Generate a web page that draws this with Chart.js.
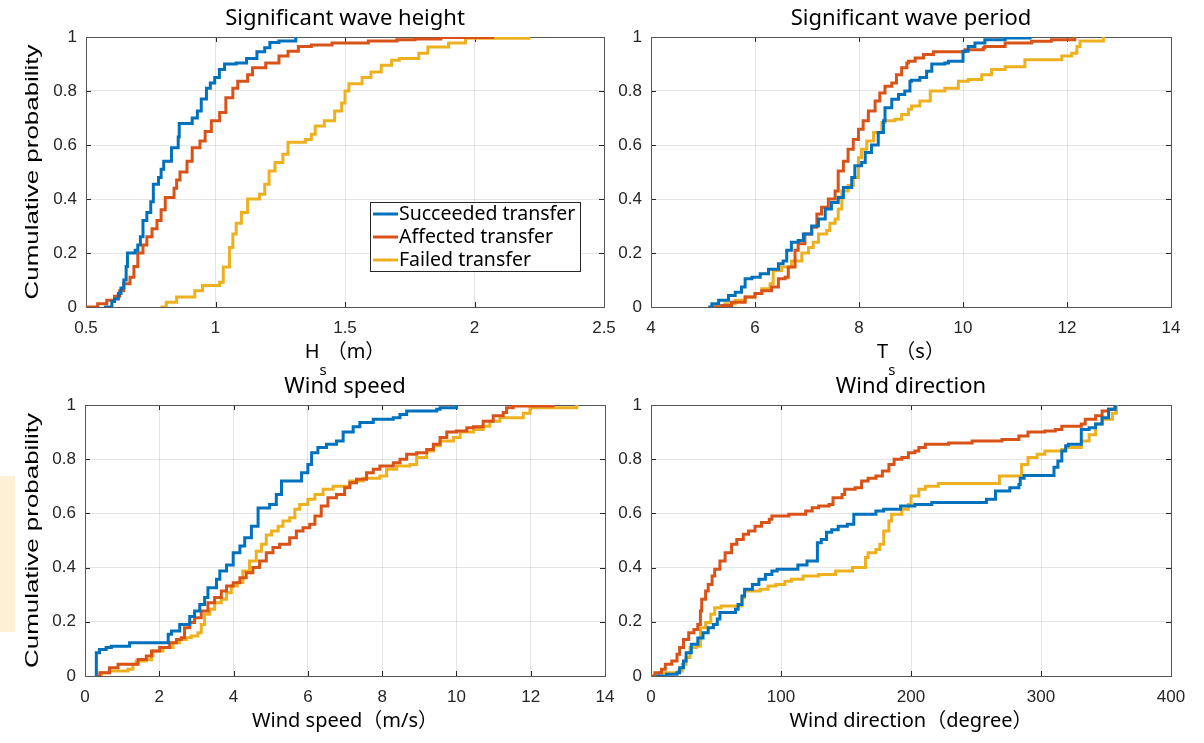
<!DOCTYPE html>
<html>
<head>
<meta charset="utf-8">
<script src="https://cdn.jsdelivr.net/npm/chart.js@4.4.1/dist/chart.umd.min.js"></script>
<style>
    html, body { margin: 0; padding: 0; background: #fff; }
    #wrap { position: relative; width: 1204px; height: 743px; overflow: hidden; }
    #wrap canvas { position: absolute; }
    #mark { position: absolute; left: 0; top: 476px; width: 15px; height: 156px; background: #fdf0d5; }
</style>
</head>
<body>
<div id="wrap">
    <div id="mark"></div>
    <canvas id="cHs" width="640" height="385" style="left:0;top:0"></canvas>
    <canvas id="cWs" width="640" height="371" style="left:0;top:372px"></canvas>
    <canvas id="cTs" width="594" height="385" style="left:610px;top:0"></canvas>
    <canvas id="cWd" width="594" height="371" style="left:610px;top:372px"></canvas>
</div>
<script>
// ============================ 数据 ============================
const seriesNames = ['Succeeded transfer', 'Affected transfer', 'Failed transfer'];
const seriesColors = ['#0072BD', '#D95319', '#EDB120'];

const probTicks = [0, 0.2, 0.4, 0.6, 0.8, 1];
const hsTicks = [0.5, 1, 1.5, 2, 2.5];
const tsTicks = [4, 6, 8, 10, 12, 14];
const wsTicks = [0, 2, 4, 6, 8, 10, 12, 14];
const wdTicks = [0, 100, 200, 300, 400];

// 有义波高 Hs (m) - [x, 累积概率]
const hsSucceeded = [[0.57,0],[0.6,0.02],[0.61,0.03],[0.625,0.05],[0.635,0.07],[0.646,0.1],[0.655,0.15],[0.66,0.2],[0.69,0.21],[0.70,0.23],[0.71,0.26],[0.72,0.32],[0.735,0.35],[0.75,0.39],[0.76,0.455],[0.78,0.48],[0.79,0.51],[0.80,0.54],[0.83,0.59],[0.856,0.63],[0.86,0.68],[0.91,0.70],[0.93,0.726],[0.945,0.77],[0.965,0.81],[0.98,0.83],[0.997,0.85],[1.015,0.88],[1.035,0.9],[1.08,0.904],[1.12,0.92],[1.16,0.945],[1.19,0.96],[1.21,0.98],[1.245,0.985],[1.31,1]];
const hsAffected = [[0.5,0],[0.545,0.012],[0.58,0.025],[0.61,0.04],[0.63,0.06],[0.646,0.086],[0.67,0.11],[0.685,0.15],[0.70,0.2],[0.72,0.23],[0.735,0.26],[0.755,0.29],[0.774,0.32],[0.79,0.36],[0.806,0.406],[0.84,0.44],[0.85,0.47],[0.863,0.5],[0.89,0.54],[0.91,0.59],[0.94,0.615],[0.96,0.65],[0.984,0.69],[1.016,0.72],[1.04,0.775],[1.067,0.81],[1.086,0.836],[1.124,0.86],[1.143,0.886],[1.194,0.904],[1.245,0.93],[1.28,0.947],[1.32,0.965],[1.37,0.97],[1.45,0.978],[1.59,0.985],[1.70,0.99],[1.77,0.993],[1.87,0.998],[2.07,1]];
const hsFailed = [[0.787,0],[0.81,0.018],[0.85,0.037],[0.92,0.06],[0.95,0.08],[1.016,0.092],[1.03,0.148],[1.054,0.22],[1.067,0.27],[1.08,0.31],[1.1,0.35],[1.124,0.40],[1.17,0.418],[1.19,0.455],[1.207,0.504],[1.23,0.535],[1.26,0.566],[1.28,0.61],[1.347,0.62],[1.37,0.64],[1.385,0.67],[1.42,0.69],[1.46,0.726],[1.487,0.756],[1.5,0.80],[1.515,0.827],[1.566,0.85],[1.60,0.87],[1.64,0.895],[1.68,0.914],[1.71,0.92],[1.785,0.94],[1.82,0.963],[1.9,0.978],[1.965,0.995],[2.21,1]];

// 有义波周期 Ts (s)
const tsSucceeded = [[5.10,0],[5.17,0.012],[5.3,0.025],[5.49,0.043],[5.62,0.055],[5.74,0.074],[5.81,0.105],[5.94,0.11],[6.1,0.123],[6.26,0.14],[6.45,0.16],[6.54,0.17],[6.61,0.21],[6.7,0.24],[6.83,0.246],[6.93,0.27],[7.09,0.3],[7.22,0.326],[7.35,0.363],[7.47,0.387],[7.6,0.406],[7.7,0.443],[7.86,0.48],[7.92,0.523],[8.05,0.535],[8.12,0.572],[8.24,0.6],[8.37,0.646],[8.47,0.69],[8.5,0.738],[8.63,0.769],[8.76,0.787],[8.88,0.8],[8.98,0.836],[9.01,0.84],[9.17,0.85],[9.3,0.873],[9.4,0.9],[9.65,0.904],[9.72,0.91],[10.0,0.947],[10.1,0.965],[10.23,0.978],[10.42,0.99],[10.81,0.996],[11.29,1]];
const tsAffected = [[5.17,0],[5.36,0.006],[5.55,0.018],[5.81,0.037],[6.0,0.05],[6.13,0.06],[6.32,0.074],[6.45,0.105],[6.58,0.11],[6.64,0.148],[6.77,0.21],[6.83,0.234],[6.96,0.27],[7.09,0.295],[7.19,0.344],[7.28,0.369],[7.41,0.4],[7.54,0.43],[7.6,0.504],[7.7,0.54],[7.79,0.584],[7.89,0.62],[7.99,0.658],[8.08,0.69],[8.18,0.726],[8.31,0.763],[8.4,0.793],[8.5,0.818],[8.63,0.83],[8.72,0.86],[8.82,0.886],[8.92,0.904],[8.95,0.91],[9.08,0.922],[9.24,0.935],[9.43,0.945],[10.04,0.953],[10.39,0.96],[10.42,0.965],[10.81,0.978],[11.32,0.984],[11.7,0.99],[12.15,1]];
const tsFailed = [[5.17,0],[5.42,0.012],[5.62,0.025],[5.81,0.037],[6.0,0.05],[6.13,0.068],[6.29,0.086],[6.35,0.135],[6.51,0.148],[6.7,0.17],[6.9,0.2],[7.03,0.22],[7.12,0.24],[7.22,0.27],[7.38,0.283],[7.44,0.31],[7.54,0.326],[7.6,0.363],[7.67,0.43],[7.79,0.45],[7.89,0.48],[7.99,0.553],[8.05,0.584],[8.15,0.615],[8.28,0.646],[8.44,0.683],[8.5,0.69],[8.69,0.695],[8.82,0.713],[8.95,0.732],[9.01,0.744],[9.17,0.763],[9.37,0.8],[9.65,0.81],[9.91,0.836],[10.1,0.843],[10.36,0.86],[10.55,0.88],[10.81,0.89],[11.19,0.916],[11.9,0.93],[12.09,0.94],[12.19,0.965],[12.25,0.985],[12.7,1]];

// 风速 (m/s)
const wsSucceeded = [[0.305,0],[0.305,0.086],[0.39,0.098],[0.57,0.105],[0.71,0.11],[1.2,0.123],[2.24,0.154],[2.33,0.166],[2.55,0.19],[2.82,0.22],[2.95,0.24],[3.09,0.264],[3.22,0.29],[3.31,0.326],[3.54,0.357],[3.63,0.387],[3.81,0.41],[3.99,0.455],[4.17,0.48],[4.3,0.51],[4.48,0.553],[4.66,0.62],[4.97,0.633],[5.15,0.67],[5.29,0.72],[5.83,0.75],[6.0,0.78],[6.1,0.824],[6.27,0.843],[6.5,0.855],[6.77,0.867],[6.95,0.9],[7.22,0.92],[7.4,0.935],[7.76,0.947],[8.3,0.953],[8.48,0.965],[8.66,0.978],[9.47,0.984],[9.56,0.99],[10.0,1]];
const wsAffected = [[0.35,0],[0.4,0.012],[0.66,0.03],[0.89,0.043],[1.43,0.061],[1.65,0.074],[1.79,0.092],[2.01,0.105],[2.28,0.123],[2.46,0.135],[2.59,0.141],[2.68,0.178],[2.82,0.197],[2.95,0.215],[3.13,0.24],[3.31,0.27],[3.49,0.29],[3.67,0.314],[3.81,0.332],[3.99,0.344],[4.17,0.363],[4.34,0.381],[4.52,0.4],[4.7,0.424],[4.88,0.455],[5.06,0.474],[5.24,0.486],[5.51,0.51],[5.69,0.535],[5.87,0.547],[6.05,0.56],[6.19,0.59],[6.36,0.627],[6.54,0.658],[6.77,0.67],[6.99,0.695],[7.13,0.713],[7.31,0.726],[7.58,0.75],[7.76,0.763],[7.94,0.775],[8.3,0.787],[8.48,0.8],[8.66,0.818],[8.93,0.824],[9.2,0.836],[9.38,0.855],[9.56,0.88],[9.74,0.9],[10.0,0.904],[10.28,0.916],[10.46,0.92],[10.72,0.94],[10.99,0.96],[11.26,0.972],[11.35,0.99],[11.53,0.996],[12.6,1]];
const wsFailed = [[0.4,0],[0.44,0.012],[0.66,0.018],[1.16,0.025],[1.29,0.043],[1.38,0.055],[1.65,0.06],[1.79,0.074],[1.83,0.092],[2.1,0.105],[2.37,0.123],[2.55,0.135],[2.73,0.141],[2.86,0.148],[3.04,0.16],[3.13,0.19],[3.22,0.228],[3.36,0.246],[3.49,0.27],[3.67,0.283],[3.81,0.307],[3.94,0.332],[4.1,0.345],[4.25,0.387],[4.43,0.424],[4.61,0.46],[4.75,0.486],[4.88,0.52],[5.02,0.535],[5.2,0.553],[5.33,0.572],[5.51,0.584],[5.65,0.615],[5.78,0.633],[6.0,0.652],[6.19,0.67],[6.41,0.689],[6.68,0.70],[7.13,0.72],[7.49,0.73],[7.94,0.738],[8.12,0.763],[8.39,0.775],[8.75,0.78],[8.93,0.806],[9.2,0.83],[9.38,0.85],[9.56,0.867],[9.92,0.88],[10.1,0.9],[10.46,0.91],[10.72,0.922],[10.9,0.94],[11.17,0.953],[11.8,0.97],[11.98,0.99],[13.24,1]];

// 风向 (degree)
const wdSucceeded = [[4,0],[12,0.006],[20,0.012],[22,0.03],[25,0.055],[27,0.086],[31,0.117],[36,0.14],[40,0.16],[44,0.178],[48,0.19],[51,0.21],[53,0.234],[65,0.246],[67,0.264],[70,0.295],[72,0.32],[78,0.338],[83,0.357],[88,0.375],[93,0.387],[97,0.394],[113,0.41],[120,0.424],[128,0.492],[131,0.504],[135,0.53],[139,0.54],[144,0.553],[151,0.56],[156,0.597],[173,0.609],[179,0.615],[192,0.627],[203,0.633],[216,0.64],[258,0.652],[265,0.683],[276,0.695],[283,0.707],[284,0.73],[287,0.74],[310,0.77],[313,0.793],[316,0.83],[319,0.85],[321,0.855],[331,0.91],[337,0.916],[342,0.93],[347,0.953],[352,0.984],[357,1]];
const wdAffected = [[0,0],[3,0.012],[8,0.025],[11,0.043],[16,0.055],[20,0.08],[22,0.105],[25,0.135],[29,0.16],[33,0.172],[36,0.19],[38,0.24],[39,0.283],[42,0.314],[44,0.338],[47,0.369],[49,0.394],[53,0.424],[57,0.455],[62,0.486],[66,0.504],[71,0.523],[75,0.535],[80,0.553],[85,0.566],[91,0.578],[93,0.59],[106,0.597],[119,0.609],[124,0.621],[129,0.627],[137,0.633],[140,0.658],[147,0.67],[149,0.689],[157,0.695],[162,0.72],[167,0.73],[173,0.738],[178,0.756],[183,0.78],[187,0.8],[193,0.806],[198,0.824],[203,0.83],[206,0.843],[211,0.855],[229,0.86],[247,0.867],[270,0.873],[283,0.886],[290,0.9],[303,0.904],[311,0.91],[316,0.922],[331,0.93],[334,0.947],[342,0.96],[347,0.978],[352,0.984],[357,1]];
const wdFailed = [[0,0],[6,0.012],[21,0.018],[24,0.043],[27,0.068],[30,0.105],[35,0.11],[38,0.178],[42,0.197],[46,0.228],[49,0.252],[54,0.258],[70,0.289],[72,0.314],[84,0.32],[90,0.332],[96,0.338],[103,0.35],[108,0.357],[117,0.369],[129,0.375],[142,0.387],[155,0.4],[165,0.437],[167,0.455],[173,0.467],[176,0.486],[179,0.535],[183,0.572],[185,0.597],[193,0.615],[198,0.633],[200,0.664],[206,0.689],[211,0.7],[221,0.71],[268,0.738],[285,0.78],[290,0.806],[297,0.818],[303,0.83],[316,0.836],[319,0.843],[331,0.867],[337,0.89],[342,0.93],[347,0.947],[355,0.97],[358,1]];

// ============================ 样式 ============================
const TEXT_FONT = '"Noto Sans", "Noto Sans CJK JP", sans-serif';
const TICK_FONT = '"Liberation Sans", Arial, sans-serif';
const INK = '#262626';

// MATLAB 风格的边框、内刻度、标题、坐标轴标签和图例
const matlabFrame = {
    id: 'matlabFrame',
    beforeDatasetsDraw(chart) {
        const ctx = chart.ctx;
        const a = chart.chartArea;
        const xs = chart.scales.x;
        const ys = chart.scales.y;
        ctx.save();
        ctx.strokeStyle = INK;
        ctx.lineWidth = 1;
        ctx.beginPath();
        xs.ticks.forEach(t => {
            const px = Math.round(xs.getPixelForValue(t.value)) + 0.5;
            ctx.moveTo(px, a.bottom); ctx.lineTo(px, a.bottom - 5);
            ctx.moveTo(px, a.top); ctx.lineTo(px, a.top + 5);
        });
        ys.ticks.forEach(t => {
            const py = Math.round(ys.getPixelForValue(t.value)) + 0.5;
            ctx.moveTo(a.left, py); ctx.lineTo(a.left + 5, py);
            ctx.moveTo(a.right, py); ctx.lineTo(a.right - 5, py);
        });
        ctx.stroke();
        ctx.strokeStyle = '#555';
        ctx.strokeRect(Math.round(a.left) + 0.5, Math.round(a.top) + 0.5,
            Math.round(a.right - a.left), Math.round(a.bottom - a.top));
        ctx.restore();
    },
    afterDraw(chart, args, opts) {
        const ctx = chart.ctx;
        const a = chart.chartArea;
        const cx = (a.left + a.right) / 2;
        ctx.save();
        ctx.fillStyle = '#000';
        ctx.textBaseline = 'middle';

        // 标题
        ctx.font = '22px ' + TEXT_FONT;
        ctx.textAlign = 'center';
        ctx.fillText(opts.title, cx, a.top - 18);

        // x 轴标签（带下标）
        const parts = opts.xlabel;
        let total = 0;
        parts.forEach(p => {
            ctx.font = (p.sub ? '15px ' : '20px ') + TEXT_FONT;
            p.w = ctx.measureText(p.t).width;
            total += p.w;
        });
        let x = cx - total / 2;
        ctx.textAlign = 'left';
        parts.forEach(p => {
            ctx.font = (p.sub ? '15px ' : '20px ') + TEXT_FONT;
            ctx.fillText(p.t, x, a.bottom + 45 + (p.sub ? 19 : 0));
            x += p.w;
        });

        // y 轴标签（横向拉伸到原图长度）
        if (opts.ylabel) {
            ctx.translate(33, (a.top + a.bottom) / 2);
            ctx.rotate(-Math.PI / 2);
            ctx.font = '19px ' + TICK_FONT;
            const w = ctx.measureText(opts.ylabel).width;
            ctx.scale(opts.ylabelLength / w, 1);
            ctx.textAlign = 'center';
            ctx.fillText(opts.ylabel, 0, 0);
            ctx.setTransform(1, 0, 0, 1, 0, 0);
        }

        // 图例
        if (opts.legend) {
            const L = opts.legend;
            ctx.fillStyle = '#fff';
            ctx.fillRect(L.x, L.y, L.w, L.h);
            ctx.strokeStyle = INK;
            ctx.lineWidth = 1;
            ctx.strokeRect(L.x + 0.5, L.y + 0.5, L.w, L.h);
            ctx.font = '19.5px ' + TEXT_FONT;
            ctx.textAlign = 'left';
            chart.data.datasets.forEach((ds, i) => {
                const yy = L.y + 12 + i * 23;
                ctx.strokeStyle = ds.borderColor;
                ctx.lineWidth = 3;
                ctx.beginPath();
                ctx.moveTo(L.x + 3, yy);
                ctx.lineTo(L.x + 28, yy);
                ctx.stroke();
                ctx.fillStyle = '#000';
                ctx.fillText(ds.label, L.x + 29, yy);
            });
        }
        ctx.restore();
    }
};

function makeDatasets(list) {
    return list.map((pts, i) => ({
        label: seriesNames[i],
        data: pts.map(p => ({ x: p[0], y: p[1] })),
        borderColor: seriesColors[i],
        backgroundColor: seriesColors[i],
        borderWidth: 3,
        stepped: 'before',
        pointRadius: 0,
        fill: false
    }));
}

function drawPanel(id, cfg) {
    const ctx = document.getElementById(id).getContext('2d');
    return new Chart(ctx, {
        type: 'line',
        data: { datasets: makeDatasets(cfg.series) },
        plugins: [matlabFrame],
        options: {
            responsive: false,
            animation: false,
            layout: { padding: { top: cfg.padTop, right: cfg.padRight, left: 0, bottom: 0 } },
            plugins: {
                legend: { display: false },
                tooltip: { enabled: false },
                matlabFrame: {
                    title: cfg.title, xlabel: cfg.xlabel, legend: cfg.legend,
                    ylabel: cfg.ylabel, ylabelLength: 255
                }
            },
            scales: {
                x: {
                    type: 'linear',
                    min: cfg.xTicks[0],
                    max: cfg.xTicks[cfg.xTicks.length - 1],
                    afterBuildTicks: s => { s.ticks = cfg.xTicks.map(v => ({ value: v })); },
                    afterFit: s => { s.height = cfg.xHeight; },
                    grid: { color: 'rgba(0,0,0,0.1)', drawTicks: false },
                    border: { display: false },
                    ticks: {
                        autoSkip: false, maxRotation: 0, padding: 11,
                        color: INK, font: { family: TICK_FONT, size: 17 },
                        callback: v => String(v)
                    }
                },
                y: {
                    type: 'linear',
                    min: 0,
                    max: 1,
                    afterBuildTicks: s => { s.ticks = probTicks.map(v => ({ value: v })); },
                    afterFit: s => { s.width = cfg.yWidth; },
                    grid: { color: 'rgba(0,0,0,0.1)', drawTicks: false },
                    border: { display: false },
                    ticks: {
                        autoSkip: false, padding: 9,
                        color: INK, font: { family: TICK_FONT, size: 17 },
                        callback: v => String(v)
                    }
                }
            }
        }
    });
}

drawPanel('cHs', {
    series: [hsSucceeded, hsAffected, hsFailed], xTicks: hsTicks,
    title: 'Significant wave height',
    xlabel: [{ t: 'H' }, { t: 's', sub: true }, { t: '（m）' }],
    ylabel: 'Cumulative probability',
    legend: { x: 370, y: 202, w: 210, h: 69 },
    padTop: 37, padRight: 36, yWidth: 86, xHeight: 78
});
drawPanel('cWs', {
    series: [wsSucceeded, wsAffected, wsFailed], xTicks: wsTicks,
    title: 'Wind speed',
    xlabel: [{ t: 'Wind speed（m/s）' }],
    ylabel: 'Cumulative probability',
    padTop: 33, padRight: 35, yWidth: 85, xHeight: 67
});
drawPanel('cTs', {
    series: [tsSucceeded, tsAffected, tsFailed], xTicks: tsTicks,
    title: 'Significant wave period',
    xlabel: [{ t: 'T' }, { t: 's', sub: true }, { t: '（s）' }],
    padTop: 37, padRight: 33, yWidth: 41, xHeight: 78
});
drawPanel('cWd', {
    series: [wdSucceeded, wdAffected, wdFailed], xTicks: wdTicks,
    title: 'Wind direction',
    xlabel: [{ t: 'Wind direction（degree）' }],
    padTop: 33, padRight: 33, yWidth: 41, xHeight: 67
});
</script>
</body>
</html>
